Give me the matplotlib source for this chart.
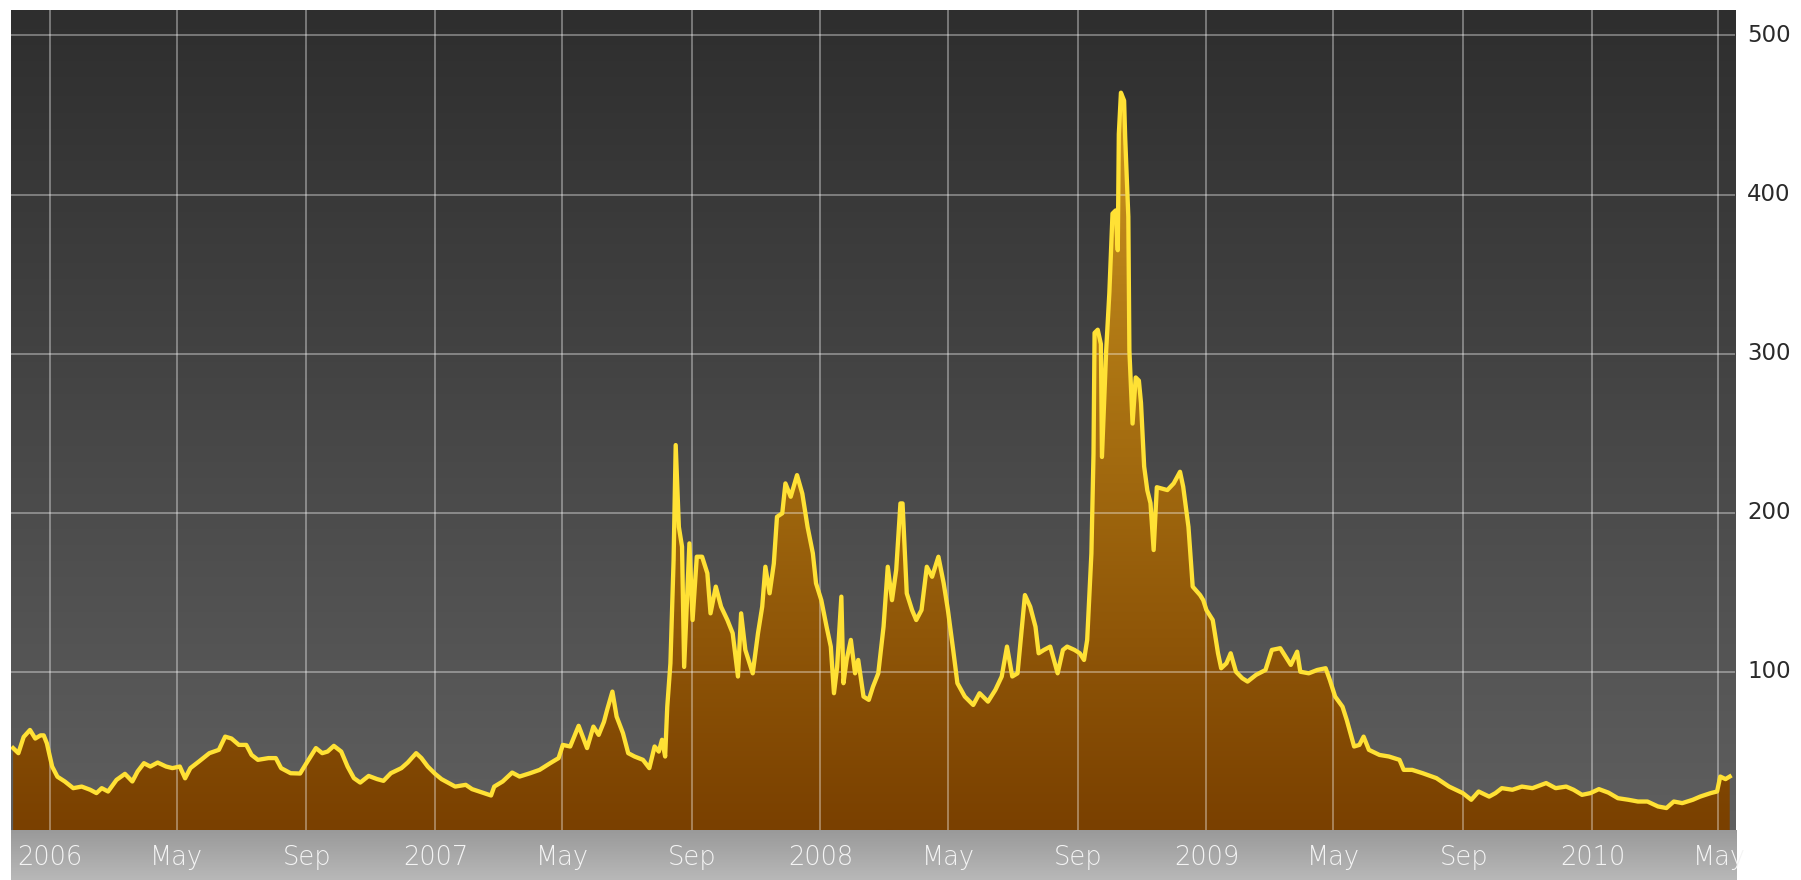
import matplotlib

matplotlib.use("Agg")
import matplotlib.dates as mdates
import matplotlib.pyplot as plt
import numpy as np
from matplotlib.colors import LinearSegmentedColormap
from matplotlib.transforms import blended_transform_factory

# daily spread readings taken off the chart
dates = [
    "2005-11-27", "2005-12-02", "2005-12-07", "2005-12-13", "2005-12-18", "2005-12-23",
    "2005-12-26", "2005-12-29", "2006-01-03", "2006-01-08", "2006-01-15", "2006-01-23",
    "2006-01-31", "2006-02-08", "2006-02-14", "2006-02-19", "2006-02-25", "2006-03-05",
    "2006-03-13", "2006-03-20", "2006-03-25", "2006-03-31", "2006-04-06", "2006-04-13",
    "2006-04-21", "2006-04-27", "2006-05-04", "2006-05-09", "2006-05-14", "2006-05-22",
    "2006-06-01", "2006-06-10", "2006-06-16", "2006-06-22", "2006-06-29", "2006-07-06",
    "2006-07-11", "2006-07-17", "2006-07-27", "2006-08-03", "2006-08-08", "2006-08-17",
    "2006-08-26", "2006-09-01", "2006-09-10", "2006-09-16", "2006-09-21", "2006-09-27",
    "2006-10-04", "2006-10-10", "2006-10-16", "2006-10-22", "2006-10-30", "2006-11-07",
    "2006-11-13", "2006-11-20", "2006-11-30", "2006-12-06", "2006-12-14", "2006-12-19",
    "2006-12-25", "2007-01-01", "2007-01-07", "2007-01-14", "2007-01-20", "2007-01-30",
    "2007-02-05", "2007-02-15", "2007-02-23", "2007-02-26", "2007-03-06", "2007-03-15",
    "2007-03-22", "2007-04-01", "2007-04-10", "2007-04-20", "2007-04-28", "2007-05-02",
    "2007-05-09", "2007-05-17", "2007-05-25", "2007-05-31", "2007-06-05", "2007-06-10",
    "2007-06-13", "2007-06-18", "2007-06-22", "2007-06-28", "2007-07-03", "2007-07-09",
    "2007-07-17", "2007-07-23", "2007-07-28", "2007-08-01", "2007-08-04", "2007-08-07",
    "2007-08-09", "2007-08-12", "2007-08-15", "2007-08-17", "2007-08-20", "2007-08-23",
    "2007-08-25", "2007-08-30", "2007-09-02", "2007-09-06", "2007-09-11", "2007-09-16",
    "2007-09-19", "2007-09-24", "2007-09-29", "2007-10-05", "2007-10-10", "2007-10-15",
    "2007-10-18", "2007-10-22", "2007-10-29", "2007-11-03", "2007-11-07", "2007-11-10",
    "2007-11-14", "2007-11-18", "2007-11-21", "2007-11-26", "2007-11-29", "2007-12-04",
    "2007-12-10", "2007-12-15", "2007-12-20", "2007-12-25", "2007-12-28", "2008-01-02",
    "2008-01-07", "2008-01-11", "2008-01-14", "2008-01-17", "2008-01-21", "2008-01-23",
    "2008-01-26", "2008-01-30", "2008-02-03", "2008-02-06", "2008-02-11", "2008-02-16",
    "2008-02-20", "2008-02-25", "2008-03-01", "2008-03-05", "2008-03-09", "2008-03-13",
    "2008-03-17", "2008-03-19", "2008-03-23", "2008-03-28", "2008-04-01", "2008-04-06",
    "2008-04-11", "2008-04-16", "2008-04-22", "2008-04-27", "2008-05-01", "2008-05-06",
    "2008-05-10", "2008-05-17", "2008-05-25", "2008-05-31", "2008-06-08", "2008-06-15",
    "2008-06-21", "2008-06-26", "2008-07-01", "2008-07-06", "2008-07-13", "2008-07-18",
    "2008-07-23", "2008-07-26", "2008-07-31", "2008-08-06", "2008-08-13", "2008-08-18",
    "2008-08-22", "2008-08-29", "2008-09-03", "2008-09-07", "2008-09-10", "2008-09-14",
    "2008-09-16", "2008-09-17", "2008-09-20", "2008-09-23", "2008-09-24", "2008-09-28",
    "2008-10-01", "2008-10-04", "2008-10-07", "2008-10-09", "2008-10-10", "2008-10-12",
    "2008-10-15", "2008-10-16", "2008-10-19", "2008-10-20", "2008-10-23", "2008-10-26",
    "2008-10-29", "2008-10-31", "2008-11-03", "2008-11-06", "2008-11-09", "2008-11-12",
    "2008-11-15", "2008-11-25", "2008-12-01", "2008-12-07", "2008-12-10", "2008-12-15",
    "2008-12-19", "2008-12-26", "2008-12-29", "2009-01-01", "2009-01-07", "2009-01-12",
    "2009-01-15", "2009-01-20", "2009-01-24", "2009-01-29", "2009-02-04", "2009-02-09",
    "2009-02-17", "2009-02-26", "2009-03-04", "2009-03-12", "2009-03-17", "2009-03-22",
    "2009-03-28", "2009-03-31", "2009-04-08", "2009-04-16", "2009-04-24", "2009-04-28",
    "2009-05-03", "2009-05-10", "2009-05-14", "2009-05-21", "2009-05-26", "2009-05-30",
    "2009-06-04", "2009-06-14", "2009-06-23", "2009-07-03", "2009-07-07", "2009-07-15",
    "2009-07-25", "2009-08-07", "2009-08-19", "2009-09-01", "2009-09-09", "2009-09-16",
    "2009-09-26", "2009-10-02", "2009-10-08", "2009-10-18", "2009-10-27", "2009-11-06",
    "2009-11-19", "2009-11-28", "2009-12-08", "2009-12-15", "2009-12-23", "2009-12-31",
    "2010-01-08", "2010-01-17", "2010-01-26", "2010-02-05", "2010-02-14", "2010-02-23",
    "2010-03-05", "2010-03-13", "2010-03-20", "2010-03-28", "2010-04-07", "2010-04-14",
    "2010-04-24", "2010-04-30", "2010-05-03", "2010-05-08", "2010-05-12",
]
values = [
    52, 48.8, 59, 63.4, 58, 60,
    60, 55, 40.4, 34, 31, 26.8,
    27.8, 25.8, 23.7, 26.8, 24.7, 32,
    35.8, 31, 37.3, 42.5, 40.4, 42.9,
    40.4, 39.4, 40.4, 33, 39.4, 43.5,
    48.8, 50.9, 59.2, 58, 54, 54,
    47.7, 44.6, 45.7, 45.7, 39.4, 36.2,
    36, 42.5, 52, 48.8, 49.8, 53.4,
    49.8, 40.4, 33.1, 30.3, 34.5, 32.5,
    31.4, 36.2, 39.4, 42.9, 48.8, 45.7,
    40.4, 35.8, 32.5, 30, 27.8, 28.9,
    26.2, 24, 22.2, 27.8, 31, 36.6,
    34.1, 36.2, 38.3, 42.5, 45.7, 54,
    53, 66, 52, 65.5, 60.3, 68.5,
    76, 87.5, 71.8, 61.4, 48.8, 46.7,
    44.6, 39.4, 53, 49.8, 57.2, 46.7,
    78, 105.3, 170, 242.5, 191, 178.6,
    103, 180.7, 132.5, 172.3, 172.3, 161.9,
    136.7, 153.5, 140.9, 132.5, 124.2, 97,
    136.7, 113.7, 99, 124.2, 140.9, 166,
    149.3, 168, 197.4, 199.6, 218.4, 210,
    223.6, 212, 191, 174.4, 155.6, 145,
    128.3, 115.8, 86.5, 103, 147.2, 92.8,
    107.4, 120, 99, 107.4, 84.4, 82.3,
    90.6, 99, 128.3, 166, 145, 164,
    205.8, 205.8, 149.3, 138.8, 132.5, 138.8,
    166, 159.7, 172.3, 155.6, 138.8, 113.7,
    92.8, 84.4, 79.1, 86.5, 81.2, 88.6,
    97, 115.8, 97, 99, 148.2, 140.9,
    128.3, 111.6, 113.7, 115.8, 99, 113.7,
    115.8, 113.7, 111.6, 107.4, 120, 174.4,
    237, 313, 315, 306, 235, 302,
    338, 388, 390, 365, 438, 464,
    459, 436, 386, 302, 256, 285,
    283, 269, 229, 214, 206, 176.5,
    216, 214.2, 218.4, 225.7, 216.3, 191,
    153.5, 148.2, 145, 138.8, 132.5, 111.6,
    102.2, 105.3, 111.6, 100, 95.9, 93.8,
    98, 101.1, 113.7, 114.8, 109.5, 104.3,
    112.6, 100, 99, 101.1, 102.2, 94.8,
    84.4, 78, 69.7, 53, 54, 59.2,
    50.9, 47.7, 46.7, 44.6, 38.3, 38.3,
    36.2, 33.1, 27.8, 23.7, 19.5, 24.7,
    21.5, 23.7, 26.8, 25.8, 27.8, 26.8,
    30, 26.8, 27.8, 25.8, 22.6, 23.7,
    26.2, 24, 20.5, 19.5, 18.4, 18.4,
    15.3, 14.3, 18.4, 17.4, 19.5, 21.5,
    23.7, 24.7, 34.1, 32.5, 34.1,
]

tick_dates = [
    "2006-01-01", "2006-05-01", "2006-09-01", "2007-01-01", "2007-05-01",
    "2007-09-01", "2008-01-01", "2008-05-01", "2008-09-01", "2009-01-01",
    "2009-05-01", "2009-09-01", "2010-01-01", "2010-05-01",
]
tick_labels = [
    "2006", "May", "Sep", "2007", "May", "Sep", "2008",
    "May", "Sep", "2009", "May", "Sep", "2010", "May",
]
y_ticks = [100, 200, 300, 400, 500]

W, H = 1801, 880
x = mdates.datestr2num(dates)
y = np.array(values)
xt = mdates.datestr2num(tick_dates)
x0, x1 = mdates.datestr2num(["2005-11-25", "2010-05-17"])
y0, y1 = 0.5, 516

fig = plt.figure(figsize=(W / 100, H / 100), dpi=100)
fig.patch.set_facecolor("white")

left, right = 11 / W, 1735 / W
ax = fig.add_axes([left, 1 - 830 / H, right - left, 820 / H])
ax.set_xlim(x0, x1)
ax.set_ylim(y0, y1)
ax.axis("off")

# dark background, lighter towards the bottom
bg = LinearSegmentedColormap.from_list("bg", ["#5f5f5f", "#2e2e2e"])
ax.imshow(np.linspace(0, 1, 256).reshape(-1, 1), cmap=bg, origin="lower",
          extent=[0, 1, 0, 1], transform=ax.transAxes, aspect="auto", zorder=0)

# brown/gold gradient under the line
poly = ax.fill_between(x, y, y0, color="none", lw=0, zorder=1)
fillc = LinearSegmentedColormap.from_list("fill", ["#7a4000", "#cc961f"])
im = ax.imshow(np.linspace(0, 1, 256).reshape(-1, 1), cmap=fillc, origin="lower",
               extent=[x0, x1, y0, 470], aspect="auto", zorder=1)
im.set_clip_path(poly.get_paths()[0], transform=ax.transData)
ax.set_xlim(x0, x1)
ax.set_ylim(y0, y1)

for xv in xt:
    ax.axvline(xv, color="white", alpha=0.38, lw=1.3, zorder=2)
for yv in y_ticks:
    ax.axhline(yv, color="white", alpha=0.38, lw=1.3, zorder=2)

ax.plot(x, y, color="#ffe135", lw=3.1, solid_joinstyle="round", zorder=3)

# right-hand value labels
tr = blended_transform_factory(fig.transFigure, ax.transData)
for yv in y_ticks:
    ax.text(1747 / W, yv, str(yv), transform=tr, ha="left", va="center",
            fontsize=16.5, color="#2a2a2a", clip_on=False)

# grey date strip
axs = fig.add_axes([left, 0, 1736 / W - left, 50 / H])
axs.set_xlim(x0, x1)
axs.set_ylim(0, 1)
axs.axis("off")
strip = LinearSegmentedColormap.from_list("strip", ["#b8b8b8", "#999999"])
axs.imshow(np.linspace(0, 1, 64).reshape(-1, 1), cmap=strip, origin="lower",
           extent=[0, 1, 0, 1], transform=axs.transAxes, aspect="auto", zorder=0)
axs.set_xlim(x0, x1)
for xv, lab in zip(xt, tick_labels):
    axs.text(xv, 0.45, lab, ha="center", va="center", fontsize=18.5,
             color="#f4f4f4", fontweight="light", zorder=2)

fig.savefig("out.png", dpi=100)
